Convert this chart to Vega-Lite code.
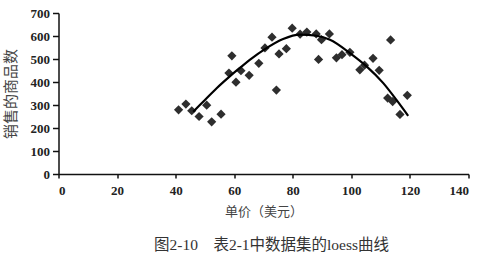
{
  "$schema": "https://vega.github.io/schema/vega-lite/v6.json",
  "autosize": "none",
  "width": 410,
  "height": 161,
  "padding": {"left": 58.5, "top": 13, "right": 21.5, "bottom": 82},
  "background": "white",
  "datasets": {
    "pts": [
      {"price": 41, "sold": 279}, {"price": 43.5, "sold": 304}, {"price": 45.5, "sold": 275},
      {"price": 48, "sold": 250}, {"price": 50.6, "sold": 299}, {"price": 52.3, "sold": 227},
      {"price": 55.5, "sold": 260}, {"price": 59.2, "sold": 514}, {"price": 58.2, "sold": 439},
      {"price": 60.6, "sold": 399}, {"price": 62.3, "sold": 449}, {"price": 65.1, "sold": 429},
      {"price": 68.4, "sold": 481}, {"price": 70.5, "sold": 548}, {"price": 72.9, "sold": 595},
      {"price": 74.4, "sold": 365}, {"price": 75.3, "sold": 522}, {"price": 77.8, "sold": 545},
      {"price": 79.8, "sold": 634}, {"price": 82.5, "sold": 608}, {"price": 84.8, "sold": 617},
      {"price": 88, "sold": 609}, {"price": 89.8, "sold": 584}, {"price": 92.5, "sold": 609},
      {"price": 88.8, "sold": 498}, {"price": 94.9, "sold": 505}, {"price": 96.8, "sold": 519},
      {"price": 99.5, "sold": 529}, {"price": 102.9, "sold": 453}, {"price": 104.5, "sold": 473},
      {"price": 107.4, "sold": 503}, {"price": 109.5, "sold": 451}, {"price": 113.4, "sold": 583},
      {"price": 112.4, "sold": 330}, {"price": 114.1, "sold": 315}, {"price": 119.1, "sold": 342},
      {"price": 116.6, "sold": 259}
    ],
    "curve": [
      {"price": 46, "sold": 271}, {"price": 50, "sold": 322}, {"price": 54, "sold": 373},
      {"price": 58, "sold": 419}, {"price": 61.9, "sold": 461}, {"price": 66, "sold": 503},
      {"price": 70.5, "sold": 543}, {"price": 76.7, "sold": 587}, {"price": 82.4, "sold": 606},
      {"price": 88.1, "sold": 601}, {"price": 92.7, "sold": 584}, {"price": 99.5, "sold": 526},
      {"price": 105.2, "sold": 468}, {"price": 110.9, "sold": 395}, {"price": 115.4, "sold": 322},
      {"price": 119.4, "sold": 253}
    ]
  },
  "title": {
    "text": "图2-10　表2-1中数据集的loess曲线",
    "orient": "bottom",
    "anchor": "middle",
    "dx": 8,
    "offset": 20,
    "font": "Liberation Serif, Noto Sans CJK SC",
    "fontSize": 15.5,
    "fontWeight": "normal",
    "color": "#333"
  },
  "config": {
    "view": {"stroke": null},
    "axis": {
      "domainColor": "#111",
      "domainWidth": 1.5,
      "tickColor": "#111",
      "tickWidth": 1.5,
      "grid": false,
      "labelFont": "Liberation Serif",
      "labelFontWeight": "bold",
      "labelFontSize": 13,
      "labelColor": "#222",
      "titleFont": "Noto Sans CJK SC",
      "titleFontWeight": "normal",
      "titleColor": "#444"
    }
  },
  "layer": [
    {
      "data": {"name": "pts"},
      "mark": {"type": "point", "shape": "diamond", "filled": true, "size": 85, "color": "#2e2e2e", "opacity": 1},
      "encoding": {
        "x": {
          "field": "price", "type": "quantitative",
          "scale": {"domain": [0, 140], "nice": false, "zero": false},
          "axis": {"values": [0, 20, 40, 60, 80, 100, 120, 140], "tickCount": 20, "labelOverlap": false, "tickSize": 4, "labelPadding": 6, "title": "单价（美元）", "titleFontSize": 13, "titlePadding": 8}
        },
        "y": {
          "field": "sold", "type": "quantitative",
          "scale": {"domain": [0, 700], "nice": false},
          "axis": {"values": [0, 100, 200, 300, 400, 500, 600, 700], "tickCount": 20, "labelOverlap": false, "labelBound": false, "tickSize": 6, "labelPadding": 3, "title": "销售的商品数", "titleFontSize": 15, "titlePadding": 12}
        }
      }
    },
    {
      "data": {"name": "curve"},
      "mark": {"type": "line", "color": "#000", "strokeWidth": 2.2, "interpolate": "monotone"},
      "encoding": {
        "x": {"field": "price", "type": "quantitative"},
        "y": {"field": "sold", "type": "quantitative"}
      }
    }
  ]
}
